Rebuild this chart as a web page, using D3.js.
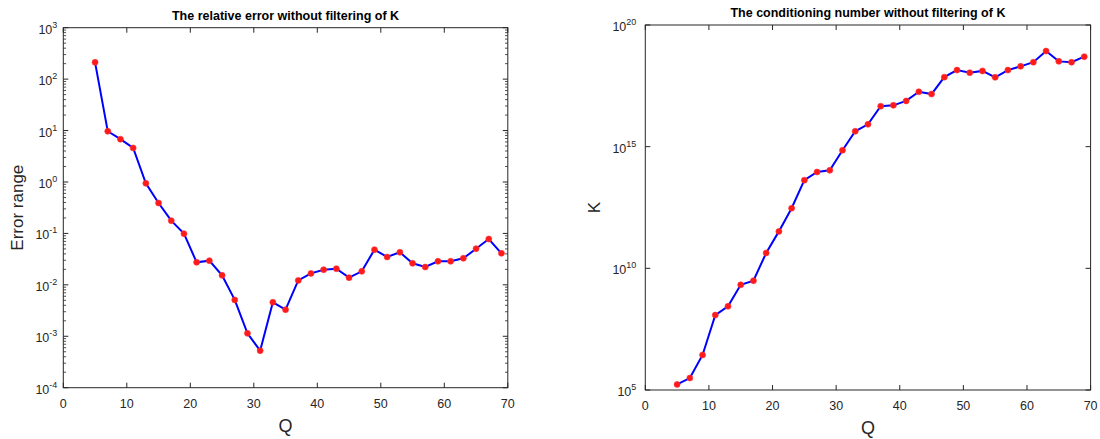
<!DOCTYPE html>
<html>
<head>
<meta charset="utf-8">
<script src="https://cdn.jsdelivr.net/npm/d3@7"></script>
<style>
  html, body { margin: 0; padding: 0; background: #fff; }
  svg { display: block; }
  text { font-family: "Liberation Sans", Arial, Helvetica, sans-serif; }
</style>
</head>
<body>
<svg id="chart" width="1100" height="439"></svg>
<script>
// ---------- data ----------
const qValues = [5,7,9,11,13,15,17,19,21,23,25,27,29,31,33,35,37,39,41,43,45,47,49,51,53,55,57,59,61,63,65,67,69];
const relError = [212, 9.7, 6.8, 4.6, 0.94, 0.39, 0.177, 0.099, 0.0274, 0.0295, 0.0153, 0.0051, 0.00114, 0.000525,
  0.00457, 0.00329, 0.0122, 0.0167, 0.0197, 0.0206, 0.0138, 0.0183, 0.0483, 0.0348, 0.043, 0.0262, 0.0222,
  0.0287, 0.0287, 0.0328, 0.0505, 0.0778, 0.041];
const condNumber = [1.7e5, 3.1e5, 2.75e6, 1.2e8, 2.75e8, 2.1e9, 3.1e9, 4.3e10, 3.3e11, 2.95e12, 4.2e13, 9.1e13,
  1.07e14, 7.1e14, 4.3e15, 8.3e15, 4.6e16, 5.0e16, 7.6e16, 1.8e17, 1.45e17, 7.2e17, 1.4e18, 1.1e18, 1.3e18,
  7.1e17, 1.4e18, 2.0e18, 2.95e18, 8.5e18, 3.2e18, 2.95e18, 5.0e18];
const xTicks = [0,10,20,30,40,50,60,70];
const leftYTickExps = [-4,-3,-2,-1,0,1,2,3];
const rightYTickExps = [5,10,15,20];
const leftTitle = "The relative error without filtering of K";
const rightTitle = "The conditioning number without filtering of K";
const leftYLabel = "Error range";
const rightYLabel = "K";
const xLabel = "Q";

// ---------- drawing ----------
const svg = d3.select("#chart");
const axisColor = "#262626";

function drawPanel(cfg) {
  const g = svg.append("g");
  const x = d3.scaleLinear().domain([0, 70]).range([cfg.left, cfg.right]);
  const y = d3.scaleLog().domain(cfg.yDomain).range([cfg.bottom, cfg.top]);

  // box
  g.append("rect")
    .attr("x", cfg.left).attr("y", cfg.top)
    .attr("width", cfg.right - cfg.left).attr("height", cfg.bottom - cfg.top)
    .attr("fill", "none").attr("stroke", axisColor).attr("stroke-width", 1);

  const majorLen = 5, minorLen = 2.8;
  // x ticks (top & bottom, inward)
  xTicks.forEach(t => {
    const px = x(t);
    g.append("line").attr("x1", px).attr("x2", px).attr("y1", cfg.bottom).attr("y2", cfg.bottom - majorLen)
      .attr("stroke", axisColor);
    g.append("line").attr("x1", px).attr("x2", px).attr("y1", cfg.top).attr("y2", cfg.top + majorLen)
      .attr("stroke", axisColor);
    g.append("text").attr("x", px).attr("y", cfg.bottom + 20)
      .attr("text-anchor", "middle").attr("font-size", 12.5).attr("fill", axisColor).text(t);
  });

  // y ticks
  cfg.yTickExps.forEach(e => {
    const py = y(Math.pow(10, e));
    g.append("line").attr("x1", cfg.left).attr("x2", cfg.left + majorLen).attr("y1", py).attr("y2", py)
      .attr("stroke", axisColor);
    g.append("line").attr("x1", cfg.right).attr("x2", cfg.right - majorLen).attr("y1", py).attr("y2", py)
      .attr("stroke", axisColor);
    const t = g.append("text").attr("x", cfg.left - cfg.labelGap).attr("y", py + 6)
      .attr("text-anchor", "end").attr("font-size", 12.5).attr("fill", axisColor);
    t.append("tspan").text("10");
    t.append("tspan").attr("dy", -6).attr("font-size", 9).text(String(e));
  });

  if (cfg.minor) {
    const [lo, hi] = cfg.yDomain.map(v => Math.round(Math.log10(v)));
    for (let e = lo; e < hi; e++) {
      for (let m = 2; m <= 9; m++) {
        const py = y(m * Math.pow(10, e));
        g.append("line").attr("x1", cfg.left).attr("x2", cfg.left + minorLen).attr("y1", py).attr("y2", py)
          .attr("stroke", axisColor).attr("stroke-width", 0.8);
        g.append("line").attr("x1", cfg.right).attr("x2", cfg.right - minorLen).attr("y1", py).attr("y2", py)
          .attr("stroke", axisColor).attr("stroke-width", 0.8);
      }
    }
  }

  // title
  g.append("text").attr("x", (cfg.left + cfg.right) / 2).attr("y", cfg.top - 8)
    .attr("text-anchor", "middle").attr("font-size", 12.5).attr("font-weight", "bold")
    .attr("fill", "#000").text(cfg.title);

  // axis labels
  g.append("text").attr("x", (cfg.left + cfg.right) / 2).attr("y", cfg.bottom + 44)
    .attr("text-anchor", "middle").attr("font-size", 18).attr("fill", axisColor).text(xLabel);
  g.append("text")
    .attr("transform", `translate(${cfg.yLabelX},${(cfg.top + cfg.bottom) / 2}) rotate(-90)`)
    .attr("text-anchor", "middle").attr("font-size", 17).attr("fill", axisColor).text(cfg.yLabel);

  // data
  const pts = qValues.map((q, i) => [q, cfg.values[i]]);
  g.append("path").datum(pts)
    .attr("d", d3.line().x(d => x(d[0])).y(d => y(d[1])))
    .attr("fill", "none").attr("stroke", "#0000ff").attr("stroke-width", 2);
  g.selectAll("circle.pt").data(pts).enter().append("circle")
    .attr("cx", d => x(d[0])).attr("cy", d => y(d[1])).attr("r", 3)
    .attr("fill", "#ff1a1a").attr("stroke", "#ff3030").attr("stroke-width", 0.6);
}

drawPanel({
  left: 63.3, right: 507.8, top: 27.7, bottom: 387.7,
  yDomain: [1e-4, 1e3], yTickExps: leftYTickExps, minor: true, labelGap: 6,
  values: relError, title: leftTitle, yLabel: leftYLabel, yLabelX: 23
});

drawPanel({
  left: 645.3, right: 1090.6, top: 25, bottom: 390,
  yDomain: [1e5, 1e20], yTickExps: rightYTickExps, minor: false, labelGap: 9,
  values: condNumber, title: rightTitle, yLabel: rightYLabel, yLabelX: 600
});
</script>
</body>
</html>
